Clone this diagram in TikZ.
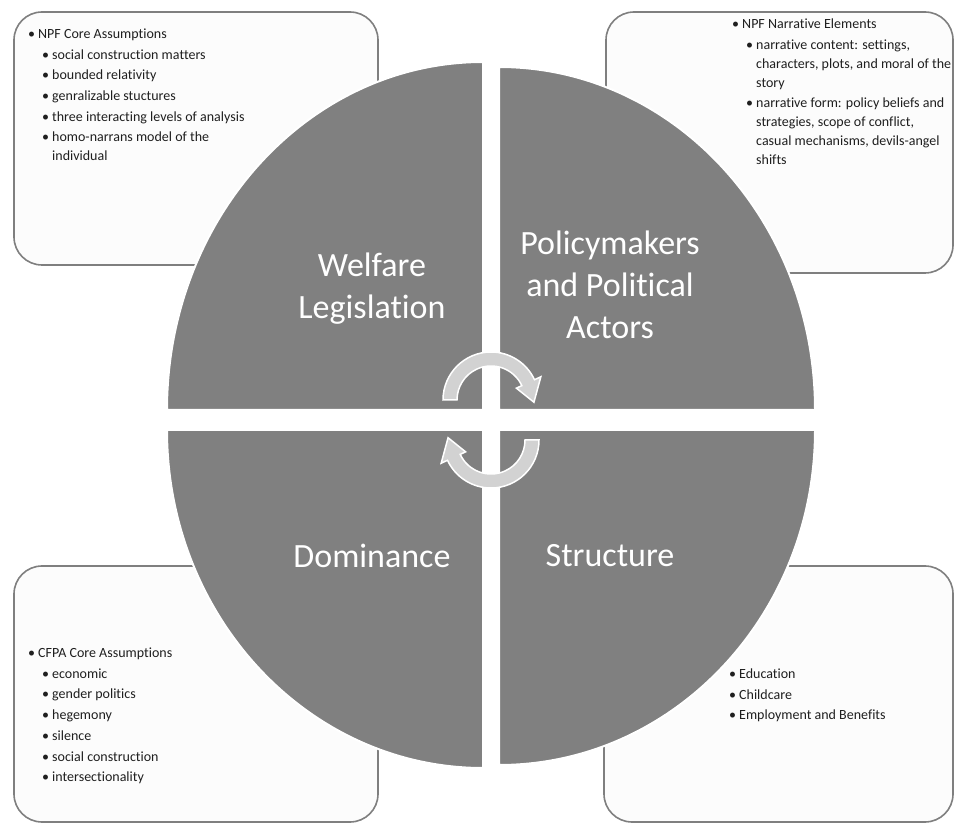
\documentclass[tikz,border=0pt]{standalone}
\usepackage{fontspec}
\setmainfont{Carlito}[Ligatures=NoCommon]

\definecolor{quadgray}{HTML}{808080}
\definecolor{arrgray}{HTML}{D2D2D2}
\definecolor{boxline}{HTML}{7F7F7F}
\definecolor{boxfill}{HTML}{FCFCFC}

% bullets for the note lists
\newcommand{\bul}{\makebox[10pt][l]{\textbullet}}
\newcommand{\subbul}{\hspace{14pt}\bul}
\newcommand{\wrapind}{\hspace{24pt}}

\begin{document}
\begin{tikzpicture}[x=1pt, y=1pt,
	quad/.style={fill=quadgray, draw=white, line width=2},
	notebox/.style={draw=boxline, fill=boxfill, line width=1.6, rounded corners=28},
	notetext/.style={anchor=base west, inner sep=0, text=black!88, font=\fontsize{14}{19}\selectfont},
	bigtext/.style={text=white, align=center, inner sep=0, font=\fontsize{34}{42}\selectfont},
	cycarrow/.style={fill=arrgray, draw=white, line width=1.5}]

		\useasboundingbox (0,0) rectangle (955,825);

		% boxes %
		\draw[notebox] (14,560) rectangle (378,813);
		\draw[notebox] (606,552) rectangle (953,813);
		\draw[notebox] (14,3) rectangle (378,259);
		\draw[notebox] (604,3) rectangle (953,259);

		% quadrants %
		\draw[quad] (483,415) -- (167,415) arc[start angle=180, end angle=90, x radius=316, y radius=348] -- cycle;
		\draw[quad] (499,415) -- (499,758) arc[start angle=90, end angle=0, x radius=316, y radius=343] -- cycle;
		\draw[quad] (483,395) -- (167,395) arc[start angle=180, end angle=270, x radius=316, y radius=338] -- cycle;
		\draw[quad] (499,395) -- (815,395) arc[start angle=0, end angle=-90, x radius=316, y radius=335] -- cycle;

		% nodes - quadrant labels %
		\node[bigtext] (welfare) at (372,536.5) {Welfare\\Legislation};
		\node[bigtext] (policy) at (610,540) {Policymakers\\and Political\\Actors};
		\node[bigtext] (dominance) at (372,269) {Dominance};
		\node[bigtext] (structure) at (610,269) {Structure};

		% nodes - box notes %
		\node[notetext] (npfcore) at (28,786.5) {\begin{tabular}[t]{@{}l@{}}
			\bul NPF Core Assumptions\\[1.7pt]
			\subbul social construction matters\\[1.7pt]
			\subbul bounded relativity\\[1.7pt]
			\subbul genralizable stuctures\\[1.7pt]
			\subbul three interacting levels of analysis\\[1.7pt]
			\subbul homo-narrans model of the\\
			\wrapind individual
		\end{tabular}};
		\node[notetext] (npfnarr) at (732,796.5) {\begin{tabular}[t]{@{}l@{}}
			\bul NPF Narrative Elements\\[1.7pt]
			\subbul narrative content: settings,\\
			\wrapind characters, plots, and moral of the\\
			\wrapind story\\[1.7pt]
			\subbul narrative form: policy beliefs and\\
			\wrapind strategies, scope of conflict,\\
			\wrapind casual mechanisms, devils-angel\\
			\wrapind shifts
		\end{tabular}};
		\node[notetext] (cfpa) at (28,167.5) {\begin{tabular}[t]{@{}l@{}}
			\bul CFPA Core Assumptions\\[1.7pt]
			\subbul economic\\[1.7pt]
			\subbul gender politics\\[1.7pt]
			\subbul hegemony\\[1.7pt]
			\subbul silence\\[1.7pt]
			\subbul social construction\\[1.7pt]
			\subbul intersectionality
		\end{tabular}};
		\node[notetext] (areas) at (729,146.5) {\begin{tabular}[t]{@{}l@{}}
			\bul Education\\[1.7pt]
			\bul Childcare\\[1.7pt]
			\bul Employment and Benefits
		\end{tabular}};

		% cycle arrows %
		\draw[cycarrow, shift={(491,425)}] (180:48) arc[start angle=180, end angle=25, radius=48]
			-- (25:55) -- (-3:43) -- (25:28) -- (25:34) arc[start angle=25, end angle=180, radius=34] -- cycle;
		\draw[cycarrow, shift={(491,385)}, rotate=180] (180:48) arc[start angle=180, end angle=25, radius=48]
			-- (25:55) -- (-3:43) -- (25:28) -- (25:34) arc[start angle=25, end angle=180, radius=34] -- cycle;
\end{tikzpicture}
\end{document}
